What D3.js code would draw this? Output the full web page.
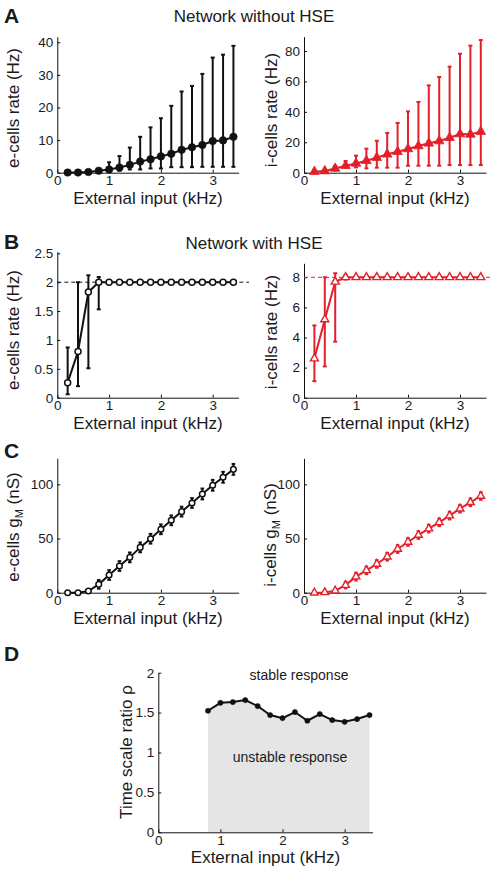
<!DOCTYPE html>
<html><head><meta charset="utf-8">
<script src="https://cdn.jsdelivr.net/npm/d3@7"></script>
<style>
body{margin:0;background:#fff}
text{font-family:"Liberation Sans",Arial,Helvetica,sans-serif;fill:#1a1a1a}
</style>
</head><body>
<svg id="c" width="492" height="874"></svg>
<script>
// ---------------- data ----------------
const inputKHz = [0.2,0.4,0.6,0.8,1.0,1.2,1.4,1.6,1.8,2.0,2.2,2.4,2.6,2.8,3.0,3.2,3.4];
const xTicks = [0,1,2,3];

// Panel A: network without HSE
const eRateNoHSE     = [0.05,0.05,0.2,0.6,1.0,1.6,2.4,3.4,4.1,5.0,5.8,7.0,7.8,8.5,9.7,9.9,11.0];
const eRateNoHSELow  = [0,0,0.1,0.3,0.3,0.6,1.0,1.0,1.3,1.3,1.7,1.7,1.7,1.8,1.8,1.8,1.8];
const eRateNoHSEHigh = [0.1,0.1,0.4,1.0,3.2,5.1,7.7,11.0,13.9,16.7,20.5,24.9,26.6,30.3,35.3,36.2,38.9];
const iRateNoHSE     = [0.7,1.1,2.8,4.6,6.1,7.9,9.9,12.1,13.8,15.6,17.5,19.3,20.8,23.0,25.4,25.2,27.0];
const iRateNoHSELow  = [0.3,0.5,1.5,3.3,3.5,2.8,3.3,3.3,3.3,4.6,4.6,4.6,4.6,5.0,5.0,5.0,5.0];
const iRateNoHSEHigh = [1.1,1.8,4.2,7.7,11.2,15.8,21.0,26.1,32.7,40.3,46.5,57.4,62.9,69.7,78.2,83.5,87.2];

// Panel B: network with HSE
const eRateHSE     = [0.26,0.80,1.83,2.0,2.0,2.0,2.0,2.0,2.0,2.0,2.0,2.0,2.0,2.0,2.0,2.0,2.0];
const eRateHSELow  = [0.06,0.20,0.51,1.53,1.97,1.97,1.97,1.97,1.97,1.97,1.97,1.97,1.97,1.97,1.97,1.97,1.97];
const eRateHSEHigh = [0.87,2.00,2.12,2.09,2.03,2.03,2.03,2.03,2.03,2.03,2.03,2.03,2.03,2.03,2.03,2.03,2.03];
const iRateHSE     = [2.6,5.2,7.7,8.0,8.0,8.0,8.0,8.0,8.0,8.0,8.0,8.0,8.0,8.0,8.0,8.0,8.0];
const iRateHSELow  = [1.1,2.08,3.72,7.85,7.92,7.92,7.92,7.92,7.92,7.92,7.92,7.92,7.92,7.92,7.92,7.92,7.92];
const iRateHSEHigh = [4.8,8.0,8.27,8.15,8.08,8.08,8.08,8.08,8.08,8.08,8.08,8.08,8.08,8.08,8.08,8.08,8.08];
const eTargetRate = 2;
const iTargetRate = 8;

// Panel C: adaptation conductance
const eGM    = [0,0,1.5,7.7,16.3,24.6,32.6,41.8,49.8,58.5,66.8,74.8,82.8,91.1,99.1,106.5,113.8];
const eGMErr = [0.8,0.8,1.5,4,4.5,4.5,4.5,4.5,4.5,4.5,4.5,4.5,4.5,5,5,5,5];
const iGM    = [0,0.3,1.8,7,14.8,20.6,26.5,33.2,40.3,46.8,53.2,59.1,64.9,71.1,77.5,83.4,89.2];
const iGMErr = [0.8,0.8,1.5,3,3.5,3.5,3.5,3.5,3.5,3.5,3.5,3.5,3.5,3.5,3.5,3.5,3.5];

// Panel D: time scale ratio
const rhoInput = [0.8,1.0,1.2,1.4,1.6,1.8,2.0,2.2,2.4,2.6,2.8,3.0,3.2,3.4];
const rho      = [1.523,1.623,1.632,1.657,1.582,1.469,1.431,1.507,1.398,1.482,1.406,1.385,1.419,1.469];

// ---------------- drawing ----------------
const svg = d3.select("#c");
const RED = "#e3202a", BLK = "#111";
const TICKFS = 13.5;

function styleAxis(ga){
  ga.selectAll("path.domain").attr("stroke",BLK).attr("stroke-width",1);
  ga.selectAll(".tick line").attr("stroke",BLK).attr("stroke-width",1);
  ga.selectAll(".tick text").attr("font-size",TICKFS).attr("fill","#1a1a1a")
    .style("font-family",'"Liberation Sans",Arial,sans-serif');
}

function axes(o){
  const x = d3.scaleLinear().domain(o.xd).range([o.l, o.r]);
  const y = d3.scaleLinear().domain(o.yd).range([o.b, o.t]);
  const g = svg.append("g");
  const ga = g.append("g").attr("class","ax");
  ga.append("g").attr("transform",`translate(0,${o.b})`)
    .call(d3.axisBottom(x).tickValues(xTicks).tickFormat(d3.format("d"))
      .tickSizeInner(-3).tickSizeOuter(0).tickPadding(3));
  ga.append("g").attr("transform",`translate(${o.l},0)`)
    .call(d3.axisLeft(y).tickValues(o.yt).tickFormat(o.fmt || d3.format("d"))
      .tickSizeInner(-3).tickSizeOuter(0).tickPadding(4));
  styleAxis(ga);
  // x label
  svg.append("text").attr("x",(o.l+o.r)/2).attr("y",o.b+31)
    .attr("text-anchor","middle").attr("font-size",17).text("External input (kHz)");
  // y label
  const yl = svg.append("text").attr("transform",`translate(${o.ylx},${o.yly}) rotate(-90)`)
    .attr("text-anchor","middle").attr("font-size",17);
  if (o.sub){
    yl.append("tspan").text(o.ylab);
    yl.append("tspan").attr("font-size",11).attr("dy",4).text(o.sub);
    yl.append("tspan").attr("dy",-4).text(o.ylab2);
  } else yl.text(o.ylab);
  return {x,y,g};
}

function errorBars(p, xs, lo, hi, color, sw, cap){
  const g = p.g.append("g");
  xs.forEach((xv,i)=>{
    const X = p.x(xv), y1 = p.y(lo[i]), y2 = p.y(hi[i]);
    g.append("line").attr("x1",X).attr("x2",X).attr("y1",y1).attr("y2",y2)
      .attr("stroke",color).attr("stroke-width",sw);
    [y1,y2].forEach(yy=>g.append("line").attr("x1",X-cap).attr("x2",X+cap)
      .attr("y1",yy).attr("y2",yy).attr("stroke",color).attr("stroke-width",sw));
  });
}
function meanLine(p, xs, ys, color, sw){
  p.g.append("path").datum(xs.map((d,i)=>[d,ys[i]]))
    .attr("fill","none").attr("stroke",color).attr("stroke-width",sw)
    .attr("d", d3.line().x(d=>p.x(d[0])).y(d=>p.y(d[1])));
}
function circles(p, xs, ys, r, fill, stroke, sw){
  p.g.append("g").selectAll("circle").data(xs).join("circle")
    .attr("cx",(d)=>p.x(d)).attr("cy",(d,i)=>p.y(ys[i])).attr("r",r)
    .attr("fill",fill).attr("stroke",stroke).attr("stroke-width",sw);
}
function triangles(p, xs, ys, size, fill, stroke, sw){
  const sym = d3.symbol(d3.symbolTriangle, size);
  p.g.append("g").selectAll("path").data(xs).join("path")
    .attr("transform",(d,i)=>`translate(${p.x(d)},${p.y(ys[i])})`)
    .attr("d",sym).attr("fill",fill).attr("stroke",stroke).attr("stroke-width",sw);
}
function panelLetter(t, y){
  svg.append("text").attr("x",4).attr("y",y).attr("font-size",21)
    .attr("font-weight","bold").text(t);
}
function title(t, y){
  svg.append("text").attr("x",254).attr("y",y).attr("text-anchor","middle")
    .attr("font-size",17).text(t);
}

const fmtDec = d => (d===0?"0":String(d));

// ----- Panel A -----
panelLetter("A", 23);
title("Network without HSE", 22);
const pA1 = axes({l:57.3,r:238.6,t:36.7,b:172.7,xd:[0,3.5],yd:[0,41.7],yt:[0,10,20,30,40],
  ylab:"e-cells rate (Hz)", ylx:19, yly:108});
errorBars(pA1, inputKHz, eRateNoHSELow, eRateNoHSEHigh, BLK, 2, 2);
meanLine(pA1, inputKHz, eRateNoHSE, BLK, 2);
circles(pA1, inputKHz, eRateNoHSE, 3.8, BLK, BLK, 0.5);

const pA2 = axes({l:304,r:486,t:36.7,b:172.7,xd:[0,3.5],yd:[0,89.4],yt:[0,20,40,60,80],
  ylab:"i-cells rate (Hz)", ylx:277, yly:110});
errorBars(pA2, inputKHz, iRateNoHSELow, iRateNoHSEHigh, RED, 2, 2);
meanLine(pA2, inputKHz, iRateNoHSE, RED, 2);
triangles(pA2, inputKHz, iRateNoHSE, 40, RED, RED, 0.8);

// ----- Panel B -----
panelLetter("B", 249);
title("Network with HSE", 249);
const pB1 = axes({l:57.3,r:238.6,t:251.7,b:397.7,xd:[0,3.5],yd:[0,2.528],yt:[0,0.5,1,1.5,2,2.5],
  fmt:fmtDec, ylab:"e-cells rate (Hz)", ylx:19, yly:330});
pB1.g.append("line").attr("x1",pB1.x(0)).attr("x2",pB1.x(3.7))
  .attr("y1",pB1.y(eTargetRate)).attr("y2",pB1.y(eTargetRate))
  .attr("stroke",BLK).attr("stroke-width",1).attr("stroke-dasharray","4,3");
errorBars(pB1, inputKHz, eRateHSELow, eRateHSEHigh, BLK, 2, 2);
meanLine(pB1, inputKHz, eRateHSE, BLK, 2);
circles(pB1, inputKHz, eRateHSE, 3, "#fff", BLK, 1.5);

const pB2 = axes({l:304,r:486,t:263.3,b:397.7,xd:[0,3.5],yd:[0,8.93],yt:[0,2,4,6,8],
  ylab:"i-cells rate (Hz)", ylx:277, yly:332});
pB2.g.append("line").attr("x1",pB2.x(0)).attr("x2",pB2.x(3.62))
  .attr("y1",pB2.y(iTargetRate)).attr("y2",pB2.y(iTargetRate))
  .attr("stroke",RED).attr("stroke-width",1).attr("stroke-dasharray","4,3");
errorBars(pB2, inputKHz, iRateHSELow, iRateHSEHigh, RED, 2, 2);
meanLine(pB2, inputKHz, iRateHSE, RED, 2);
triangles(pB2, inputKHz, iRateHSE, 28, "#fff", RED, 1.4);

// ----- Panel C -----
panelLetter("C", 458);
const pC1 = axes({l:57.3,r:238.6,t:458.3,b:592.7,xd:[0,3.5],yd:[0,124],yt:[0,50,100],
  ylab:"e-cells g", sub:"M", ylab2:" (nS)", ylx:19, yly:527});
errorBars(pC1, inputKHz, eGM.map((d,i)=>d-eGMErr[i]), eGM.map((d,i)=>d+eGMErr[i]), BLK, 2, 1.8);
meanLine(pC1, inputKHz, eGM, BLK, 2);
circles(pC1, inputKHz, eGM, 2.8, "#fff", BLK, 1.5);

const pC2 = axes({l:304,r:486,t:458.3,b:592.7,xd:[0,3.5],yd:[0,124],yt:[0,50,100],
  ylab:"i-cells g", sub:"M", ylab2:" (nS)", ylx:276, yly:535});
errorBars(pC2, inputKHz, iGM.map((d,i)=>d-iGMErr[i]), iGM.map((d,i)=>d+iGMErr[i]), RED, 2, 1.8);
meanLine(pC2, inputKHz, iGM, RED, 2);
triangles(pC2, inputKHz, iGM, 26, "#fff", RED, 1.4);

// ----- Panel D -----
panelLetter("D", 661);
const xD = d3.scaleLinear().domain([0,3.45]).range([158.3,372.6]);
const yD = d3.scaleLinear().domain([0,2]).range([832.3,672.7]);
const gD = svg.append("g");
gD.append("path").datum(rhoInput.map((d,i)=>[d,rho[i]]))
  .attr("fill","#e5e5e5")
  .attr("d", d3.area().x(d=>xD(d[0])).y0(yD(0)).y1(d=>yD(d[1])));
const pD = {x:xD, y:yD, g:gD};
(function(){
  const ga = svg.append("g");
  ga.append("g").attr("transform",`translate(0,${yD(0)})`)
    .call(d3.axisBottom(xD).tickValues(xTicks).tickFormat(d3.format("d"))
      .tickSizeInner(-3).tickSizeOuter(0).tickPadding(3));
  ga.append("g").attr("transform",`translate(${xD(0)},0)`)
    .call(d3.axisLeft(yD).tickValues([0,0.5,1,1.5,2]).tickFormat(fmtDec)
      .tickSizeInner(-3).tickSizeOuter(0).tickPadding(4));
  styleAxis(ga);
  svg.append("text").attr("x",(xD(0)+xD(3.45))/2).attr("y",yD(0)+31)
    .attr("text-anchor","middle").attr("font-size",17).text("External input (kHz)");
  svg.append("text").attr("transform",`translate(132,752) rotate(-90)`)
    .attr("text-anchor","middle").attr("font-size",17).text("Time scale ratio ρ");
})();
meanLine(pD, rhoInput, rho, BLK, 2);
circles(pD, rhoInput, rho, 2.6, BLK, BLK, 0.5);
svg.append("text").attr("x",299).attr("y",680).attr("text-anchor","middle")
  .attr("font-size",14).text("stable response");
svg.append("text").attr("x",290).attr("y",762).attr("text-anchor","middle")
  .attr("font-size",14).text("unstable response");
</script>
</body></html>
